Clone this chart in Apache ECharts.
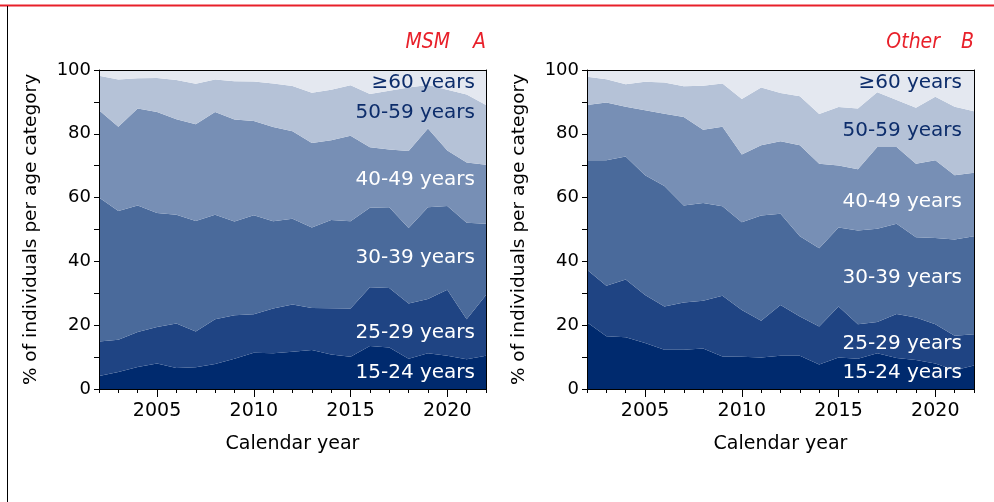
<!DOCTYPE html>
<html>
<head>
<meta charset="utf-8">
<script src="https://cdn.jsdelivr.net/npm/echarts@6/dist/echarts.min.js"></script>
<style>
html,body{margin:0;padding:0;background:#fff;}
#c{width:994px;height:502px;}
</style>
</head>
<body>
<div id="c"></div>
<script>
const years = ['2002','2003','2004','2005','2006','2007','2008','2009','2010','2011','2012','2013','2014','2015','2016','2017','2018','2019','2020','2021','2022'];
const ageGroups = ['15-24 years','25-29 years','30-39 years','40-49 years','50-59 years','\u226560 years'];
const yTicks = [0,20,40,60,80,100];

// MSM (panel A), % per age category
const msm1524 = [4.1,5.3,6.9,8.0,6.6,6.8,7.8,9.5,11.4,11.2,11.7,12.2,10.8,10.1,13.5,13.0,9.5,11.2,10.4,9.3,10.4];
const msm2529 = [10.8,10.1,11.0,11.4,13.9,11.2,14.1,13.6,12.0,14.0,14.8,13.2,14.5,15.1,18.4,18.7,17.3,17.0,20.7,12.6,19.1];
const msm3039 = [45.1,40.4,39.6,35.8,34.1,34.7,32.7,29.4,31.1,27.4,26.9,25.2,27.7,27.4,24.9,25.3,23.7,28.8,26.3,30.2,22.3];
const msm4049 = [27.4,26.4,30.4,31.6,30.0,30.3,32.2,32.0,29.5,29.5,27.4,26.5,25.0,26.8,19.0,18.1,24.1,24.7,17.4,18.9,18.5];
const msm5059 = [10.8,14.8,9.5,10.7,12.3,12.7,10.2,12.0,12.4,13.7,14.2,15.8,15.8,15.8,16.7,18.4,19.9,13.6,19.0,21.3,18.7];
const msm60   = [1.8,3.0,2.6,2.5,3.1,4.3,3.0,3.5,3.6,4.2,5.0,7.1,6.2,4.8,7.5,6.5,5.5,4.7,6.2,7.7,11.0];

// Other (panel B)
const oth1524 = [20.9,16.5,16.2,14.4,12.3,12.3,12.7,10.2,10.1,9.9,10.4,10.4,7.7,9.9,9.5,11.2,9.7,9.1,8.0,5.9,7.4];
const oth2529 = [16.5,15.9,18.1,15.1,13.6,14.8,15.0,19.0,14.7,11.5,15.9,12.3,11.9,16.0,10.8,9.8,13.8,13.3,12.3,10.8,9.8];
const oth3039 = [34.3,39.3,38.6,37.5,37.7,30.4,30.6,28.1,27.5,33.0,28.6,25.2,24.5,24.7,29.4,29.2,28.3,25.2,27.0,30.2,30.7];
const oth4049 = [17.3,18.1,15.6,20.4,22.7,27.8,23.0,24.9,21.2,22.0,22.8,28.5,26.5,19.5,19.2,25.7,24.1,23.0,24.4,20.1,19.9];
const oth5059 = [8.9,7.3,7.0,8.9,9.8,9.6,13.8,13.6,17.4,18.1,15.1,15.4,15.6,18.3,19.0,17.1,14.7,17.6,19.9,21.5,19.3];
const oth60   = [2.1,2.9,4.5,3.7,3.9,5.1,4.9,4.2,9.1,5.5,7.2,8.2,13.8,11.6,12.1,7.0,9.4,11.8,8.4,11.5,12.9];

const colors = ['#002a6e','#1f4483','#4a6a9b','#778fb5','#b5c2d7','#e4e8f0'];
const labelColors = ['#ffffff','#ffffff','#ffffff','#ffffff','#0d2d6b','#0d2d6b'];
const FONT = '"DejaVu Sans", Verdana, sans-serif';

const chart = echarts.init(document.getElementById('c'));

const gridsPos = [{left:99, top:70, width:387, height:319},{left:587, top:70, width:387, height:319}];

const xAxes = [], yAxes = [];
gridsPos.forEach((g, gi) => {
  xAxes.push({
    type:'category', gridIndex:gi, data:years, boundaryGap:false, position:'bottom', z:5,
    axisLine:{show:true, lineStyle:{color:'#000', width:1}},
    axisTick:{show:true, interval:0, length:4, lineStyle:{color:'#000'}},
    axisLabel:{interval:(i,v)=> (+v)%5===0, color:'#000', fontFamily:FONT, fontSize:19, margin:13},
    splitLine:{show:false},
    name:'Calendar year', nameLocation:'middle', nameGap:46,
    nameTextStyle:{color:'#000', fontFamily:FONT, fontSize:19}
  });
  xAxes.push({
    type:'category', gridIndex:gi, data:years, boundaryGap:false, position:'bottom', z:5,
    axisLine:{show:false},
    axisTick:{show:true, interval:(i,v)=> (+v)%5===0, length:8, lineStyle:{color:'#000'}},
    axisLabel:{show:false}, splitLine:{show:false}
  });
  xAxes.push({
    type:'category', gridIndex:gi, data:years, boundaryGap:false, position:'top', z:5,
    axisLine:{show:true, lineStyle:{color:'#000', width:1}},
    axisTick:{show:false}, axisLabel:{show:false}, splitLine:{show:false}
  });
  yAxes.push({
    type:'value', gridIndex:gi, min:0, max:100, interval:10, position:'left', z:5,
    axisLine:{show:true, lineStyle:{color:'#000', width:1}},
    axisTick:{show:true, length:5, lineStyle:{color:'#000'}},
    axisLabel:{formatter:(v)=> yTicks.indexOf(v)>=0 ? String(v) : '', color:'#000', fontFamily:FONT, fontSize:18, margin:8},
    splitLine:{show:false},
    name:'% of individuals per age category', nameLocation:'middle', nameGap:58,
    nameTextStyle:{color:'#000', fontFamily:FONT, fontSize:18.5}
  });
  yAxes.push({
    type:'value', gridIndex:gi, min:0, max:100, interval:10, position:'right', z:5,
    axisLine:{show:true, lineStyle:{color:'#000', width:1}},
    axisTick:{show:false}, axisLabel:{show:false}, splitLine:{show:false}
  });
});

const panels = [
  [msm1524,msm2529,msm3039,msm4049,msm5059,msm60],
  [oth1524,oth2529,oth3039,oth4049,oth5059,oth60]
];
const series = [];
panels.forEach((arrs, pi) => {
  arrs.forEach((arr, k) => {
    series.push({
      type:'line', name:ageGroups[k], stack:'p'+pi, xAxisIndex:pi*3, yAxisIndex:pi*2,
      data:arr, symbol:'none', showSymbol:false, smooth:false,
      lineStyle:{width:0}, areaStyle:{color:colors[k], opacity:1}, itemStyle:{color:colors[k]},
      emphasis:{disabled:true}, silent:true, z:2
    });
  });
});

// in-plot category labels (top to bottom positions)
const labelY = [[373,333,258,180,113,83],[373,344,278,202,131,83]];
const labelX = [475, 962];
const graphics = [];
labelY.forEach((ys, pi) => {
  ys.forEach((y, k) => {
    graphics.push({type:'text', x:labelX[pi], y:y, z:100, silent:true,
      style:{text:ageGroups[k], fill:labelColors[k], font:'20px '+FONT, textAlign:'right', textVerticalAlign:'middle'}});
  });
});
const TFONT = 'italic 21px "Liberation Sans Narrow", "DejaVu Sans Condensed", "Liberation Sans", sans-serif';
graphics.push({type:'text', x:450, y:43, z:100, style:{text:'MSM', fill:'#e8202a', font:TFONT, textAlign:'right', textVerticalAlign:'middle'}});
graphics.push({type:'text', x:486, y:43, z:100, style:{text:'A', fill:'#e8202a', font:TFONT, textAlign:'right', textVerticalAlign:'middle'}});
graphics.push({type:'text', x:940, y:43, z:100, style:{text:'Other', fill:'#e8202a', font:TFONT, textAlign:'right', textVerticalAlign:'middle'}});
graphics.push({type:'text', x:974, y:43, z:100, style:{text:'B', fill:'#e8202a', font:TFONT, textAlign:'right', textVerticalAlign:'middle'}});
// page frame
graphics.push({type:'line', z:100, shape:{x1:0, y1:5.5, x2:994, y2:5.5}, style:{stroke:'#e8202a', lineWidth:2}});
graphics.push({type:'line', z:100, shape:{x1:7.5, y1:6, x2:7.5, y2:502}, style:{stroke:'#000', lineWidth:1}});

chart.setOption({
  animation:false,
  backgroundColor:'#fff',
  grid: gridsPos.map(g => Object.assign({containLabel:false}, g)),
  xAxis: xAxes,
  yAxis: yAxes,
  series: series,
  graphic: graphics
});
</script>
</body>
</html>
